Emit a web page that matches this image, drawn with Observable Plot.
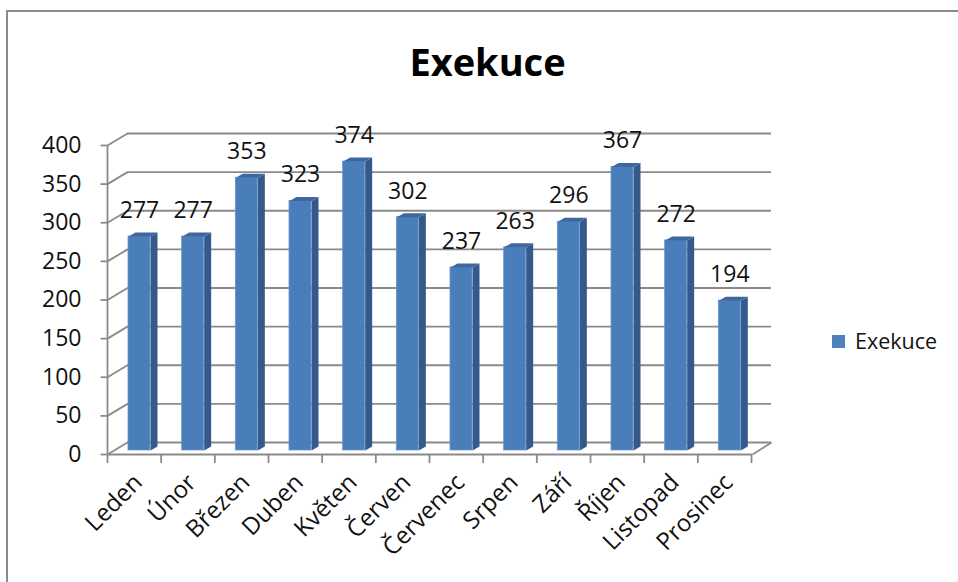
<!DOCTYPE html>
<html><head><meta charset="utf-8">
<script src="https://cdn.jsdelivr.net/npm/d3@7"></script>
<script src="https://cdn.jsdelivr.net/npm/@observablehq/plot@0.6"></script>
<style>
html,body{margin:0;padding:0;background:#fff;overflow:hidden;width:958px;height:582px;font-family:"Open Sans",sans-serif}
#frame{position:absolute;left:6px;top:10px;width:970px;height:600px;border-left:2px solid #8a8a8a;border-top:2px solid #8a8a8a;box-sizing:border-box}
#chart{position:absolute;left:0;top:0}
#title{position:absolute;left:0;width:975px;top:42px;text-align:center;font:bold 38px/38px "Open Sans";color:#000}
#legend{position:absolute;left:832px;top:326px;height:30px;display:flex;align-items:center;font:21.5px/30px "Open Sans";color:#111}
#legend .sw{width:13px;height:13px;background:#4f81bd;margin-right:10px}
</style></head>
<body>
<div id="frame"></div>
<div id="chart"></div>
<div id="title"></div>
<div id="legend"><div class="sw"></div><span id="legtext"></span></div>
<script>
const months = ["Leden","Únor","Březen","Duben","Květen","Červen","Červenec","Srpen","Září","Říjen","Listopad","Prosinec"];
const values = [277,277,353,323,374,302,237,263,296,367,272,194];
const yTicks = [0,50,100,150,200,250,300,350,400];
const chartTitle = "Exekuce";
const seriesName = "Exekuce";

document.getElementById("title").textContent = chartTitle;
document.getElementById("legtext").textContent = seriesName;

// layout (pixels)
const W = 958, H = 582;
const X0 = 107, X1 = 751, Y0 = 454, Y1 = 145;
const n = months.length;
const kx = (X1 - X0) / n;       // px per category unit
const ky = (Y0 - Y1) / 400;     // px per value unit
const back = {dx: 20, dy: 12};  // back wall offset
const depth = {dx: 7, dy: 4};   // bar depth
const barLeft = 21 / kx, barRight = 43 / kx;
const dxu = depth.dx / kx, dyu = depth.dy / ky;

const bars = values.map((v, i) => ({i, v, x1: i + barLeft, x2: i + barRight}));
const sides = bars.flatMap(b => [
  {i: b.i, x: b.x2, y: 0}, {i: b.i, x: b.x2 + dxu, y: dyu},
  {i: b.i, x: b.x2 + dxu, y: b.v + dyu}, {i: b.i, x: b.x2, y: b.v}
]);
const tops = bars.flatMap(b => [
  {i: b.i, x: b.x1, y: b.v}, {i: b.i, x: b.x1 + dxu, y: b.v + dyu},
  {i: b.i, x: b.x2 + dxu, y: b.v + dyu}, {i: b.i, x: b.x2, y: b.v}
]);
const grid = "#8a8a8a";

const chart = Plot.plot({
  width: W, height: H,
  marginLeft: X0, marginRight: W - X1, marginTop: Y1, marginBottom: H - Y0,
  x: {type: "linear", domain: [0, n], axis: null},
  y: {type: "linear", domain: [0, 400], axis: null},
  style: {fontFamily: "Open Sans", fontSize: "22px", overflow: "visible", background: "transparent", color: "#1a1a1a"},
  marks: [
    // back wall gridlines
    Plot.ruleY(yTicks, {x1: 0, x2: n, dx: back.dx, dy: -back.dy, stroke: grid, strokeWidth: 1.8}),
    // left wall diagonals
    Plot.link(yTicks, {x1: 0, y1: d => d, x2: back.dx / kx, y2: d => d + back.dy / ky, stroke: grid, strokeWidth: 1.8}),
    // floor front edge & right edge
    Plot.ruleY([0], {x1: 0, x2: n + 0.02, stroke: grid, strokeWidth: 1.8}),
    Plot.link([0], {x1: n + 0.02, y1: 0, x2: n + 0.02 + (back.dx - 1) / kx, y2: back.dy / ky, stroke: grid, strokeWidth: 1.8}),
    // front y axis line & ticks
    Plot.ruleX([0], {y1: 0, y2: 400, stroke: grid, strokeWidth: 1.8}),
    Plot.link(yTicks, {x1: -7 / kx, x2: 0, y1: d => d, y2: d => d, stroke: grid, strokeWidth: 1.8}),
    // x ticks
    Plot.ruleX(d3.range(n + 1), {y1: 0, y2: -9 / ky, stroke: grid, strokeWidth: 1.8}),
    // bars
    Plot.line(sides, {x: "x", y: "y", z: "i", fill: "#34598a", stroke: "none", dy: -depth.dy}),
    Plot.rectY(bars, {x1: "x1", x2: "x2", y1: 0, y2: "v", fill: "#4a7ebb", stroke: "#6b96cc", strokeWidth: 0.8, dy: -depth.dy}),
    Plot.line(tops, {x: "x", y: "y", z: "i", fill: "#3d679d", stroke: "none", dy: -depth.dy}),
    // value labels
    Plot.text(bars, {x: d => (d.x1 + d.x2) / 2, y: "v", text: d => String(d.v), dy: -30, fontSize: 23, fill: "#111"}),
    // y tick labels
    Plot.text(yTicks, {x: 0, y: d => d, text: d => String(d), textAnchor: "end", dx: -26, fontSize: 23, fill: "#111"}),
    // x labels
    Plot.text(months, {x: (d, i) => i + 0.5, y: 0, text: d => d, rotate: -45, textAnchor: "end", dx: 4, dy: 24, fontSize: 24, fill: "#111"})
  ]
});
document.getElementById("chart").appendChild(chart);
</script>
</body></html>
